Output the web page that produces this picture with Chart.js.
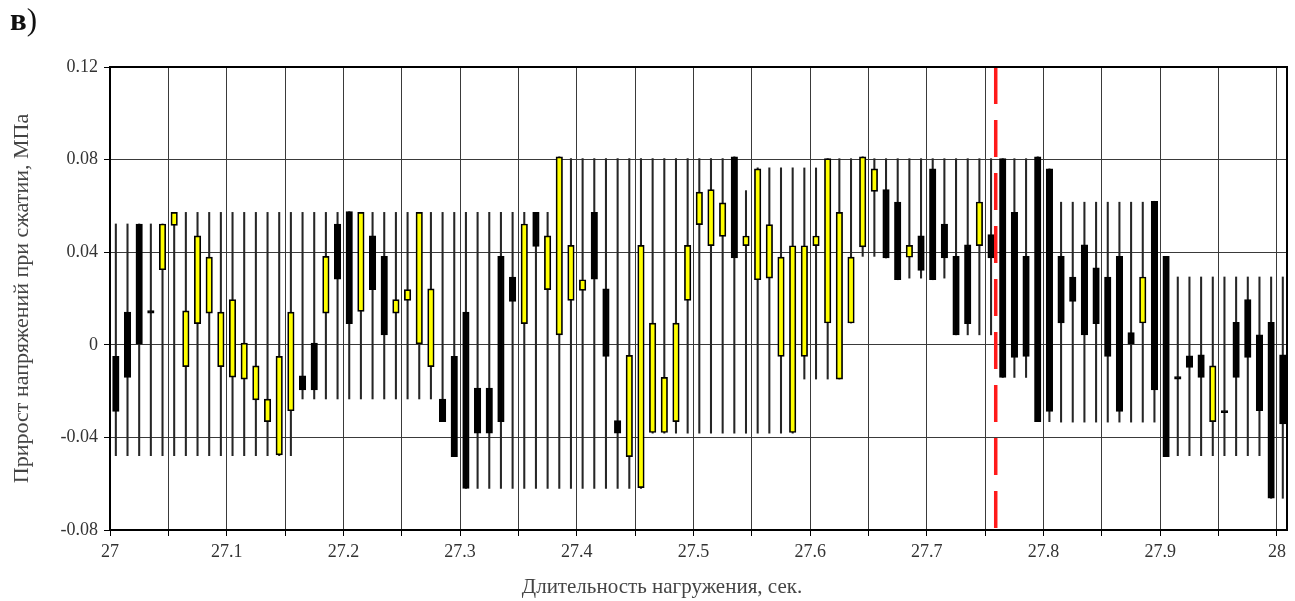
<!DOCTYPE html>
<html lang="ru">
<head>
<meta charset="utf-8">
<title>Прирост напряжений при сжатии</title>
<script src="https://cdn.jsdelivr.net/npm/chart.js@4.4.1/dist/chart.umd.min.js"></script>
<style>
  html, body { margin: 0; padding: 0; background: #fff; }
  #wrap { position: relative; width: 1295px; height: 601px; }
  #panel { position: absolute; left: 10px; top: 2px; font: 31px 'Liberation Serif', serif; color: #111; }
  #panel b { font-weight: bold; }
  #xTitle { position: absolute; left: 462px; width: 400px; top: 574px; text-align: center;
            font: 21px 'Liberation Serif', serif; color: #444; }
</style>
</head>
<body>
<div id="wrap">
  <canvas id="stockChart" width="1295" height="601"></canvas>
  <div id="panel"><b>в</b>)</div>
  <div id="xTitle">Длительность нагружения, сек.</div>
</div>
<script>
// 101 samples, 0.01 s apart, starting at 27.005 s
const startTime = 27.005;
const stepTime = 0.01;

const openVals = [
  -0.0050, 0.0141, 0.0522, 0.0148, 0.0324, 0.0516, -0.0094, 0.0091, 0.0137, -0.0094,
  -0.0140, -0.0148, -0.0238, -0.0332, -0.0476, -0.0285, -0.0134, 0.0007, 0.0137, 0.0522,
  0.0575, 0.0144, 0.0471, 0.0382, 0.0137, 0.0192, 0.0004, -0.0094, -0.0234, -0.0050,
  0.0141, -0.0187, -0.0187, 0.0382, 0.0293, 0.0091, 0.0572, 0.0238, 0.0043, 0.0192,
  0.0235, 0.0572, 0.0242, -0.0327, -0.0483, -0.0617, -0.0379, -0.0379, -0.0332, 0.0192,
  0.0519, 0.0428, 0.0468, 0.0812, 0.0428, 0.0281, 0.0288, -0.0050, -0.0379, -0.0050,
  0.0428, 0.0094, -0.0148, 0.0094, 0.0423, 0.0663, 0.0670, 0.0616, 0.0378, 0.0471,
  0.0760, 0.0522, 0.0382, 0.0432, 0.0428, 0.0476, 0.0804, 0.0572, 0.0382, 0.0812,
  0.0760, 0.0382, 0.0293, 0.0432, 0.0332, 0.0293, 0.0382, 0.0053, 0.0094, 0.0620,
  0.0382, -0.0137, -0.0048, -0.0043, -0.0332, -0.0284, 0.0097, 0.0195, 0.0043, 0.0097,
  -0.0043
];

const closeVals = [
  -0.0288, -0.0141, 0.0003, 0.0137, 0.0522, 0.0572, 0.0147, 0.0471, 0.0379, 0.0141,
  0.0195, 0.0007, -0.0091, -0.0235, -0.0050, 0.0141, -0.0195, -0.0195, 0.0382, 0.0284,
  0.0091, 0.0572, 0.0238, 0.0043, 0.0195, 0.0238, 0.0572, 0.0242, -0.0332, -0.0483,
  -0.0620, -0.0382, -0.0382, -0.0332, 0.0187, 0.0522, 0.0425, 0.0471, 0.0812, 0.0430,
  0.0281, 0.0284, -0.0050, -0.0382, -0.0046, 0.0430, 0.0094, -0.0141, 0.0094, 0.0430,
  0.0660, 0.0670, 0.0613, 0.0375, 0.0470, 0.0760, 0.0519, 0.0379, 0.0428, 0.0428,
  0.0470, 0.0804, 0.0572, 0.0379, 0.0812, 0.0760, 0.0375, 0.0281, 0.0430, 0.0321,
  0.0281, 0.0375, 0.0043, 0.0091, 0.0617, 0.0375, -0.0141, -0.0055, -0.0050, -0.0332,
  -0.0288, 0.0094, 0.0187, 0.0043, 0.0091, -0.0050, -0.0288, 0.0004, 0.0293, -0.0195,
  -0.0483, -0.0148, -0.0098, -0.0141, -0.0091, -0.0293, -0.0141, -0.0055, -0.0285, -0.0663,
  -0.0342
];

const highVals = [
  0.0522, 0.0522, 0.0522, 0.0522, 0.0522, 0.0572, 0.0572, 0.0572, 0.0572, 0.0572,
  0.0572, 0.0572, 0.0572, 0.0572, 0.0572, 0.0572, 0.0572, 0.0572, 0.0572, 0.0572,
  0.0575, 0.0572, 0.0572, 0.0572, 0.0572, 0.0572, 0.0572, 0.0572, 0.0572, 0.0572,
  0.0572, 0.0572, 0.0572, 0.0572, 0.0572, 0.0572, 0.0572, 0.0572, 0.0812, 0.0804,
  0.0804, 0.0804, 0.0804, 0.0804, 0.0804, 0.0804, 0.0804, 0.0804, 0.0804, 0.0804,
  0.0804, 0.0804, 0.0804, 0.0812, 0.0666, 0.0764, 0.0764, 0.0764, 0.0764, 0.0764,
  0.0764, 0.0804, 0.0804, 0.0804, 0.0812, 0.0804, 0.0804, 0.0804, 0.0804, 0.0804,
  0.0804, 0.0804, 0.0804, 0.0804, 0.0804, 0.0804, 0.0804, 0.0804, 0.0804, 0.0812,
  0.0760, 0.0616, 0.0616, 0.0616, 0.0616, 0.0616, 0.0616, 0.0616, 0.0616, 0.0620,
  0.0382, 0.0293, 0.0293, 0.0293, 0.0293, 0.0293, 0.0293, 0.0293, 0.0293, 0.0293,
  0.0293
];

const lowVals = [
  -0.0479, -0.0479, -0.0479, -0.0479, -0.0479, -0.0479, -0.0479, -0.0479, -0.0479, -0.0479,
  -0.0479, -0.0479, -0.0479, -0.0479, -0.0479, -0.0479, -0.0234, -0.0234, -0.0234, -0.0234,
  -0.0234, -0.0234, -0.0234, -0.0234, -0.0234, -0.0234, -0.0234, -0.0234, -0.0332, -0.0483,
  -0.0620, -0.0620, -0.0620, -0.0620, -0.0620, -0.0620, -0.0620, -0.0620, -0.0620, -0.0620,
  -0.0620, -0.0620, -0.0620, -0.0620, -0.0620, -0.0620, -0.0382, -0.0382, -0.0382, -0.0382,
  -0.0382, -0.0382, -0.0382, -0.0382, -0.0382, -0.0382, -0.0382, -0.0382, -0.0382, -0.0148,
  -0.0148, -0.0148, -0.0148, 0.0094, 0.0382, 0.0382, 0.0375, 0.0281, 0.0288, 0.0288,
  0.0281, 0.0288, 0.0043, 0.0043, 0.0043, 0.0043, -0.0141, -0.0141, -0.0141, -0.0332,
  -0.0332, -0.0334, -0.0334, -0.0334, -0.0334, -0.0334, -0.0334, -0.0334, -0.0334, -0.0334,
  -0.0483, -0.0479, -0.0479, -0.0479, -0.0479, -0.0479, -0.0479, -0.0479, -0.0479, -0.0663,
  -0.0663
];

// moment marked with the red dashed line
const splitTime = 27.759;

const xGridTicks = [27, 27.05, 27.1, 27.15, 27.2, 27.25, 27.3, 27.35, 27.4, 27.45, 27.5,
  27.55, 27.6, 27.65, 27.7, 27.75, 27.8, 27.85, 27.9, 27.95, 28];
const xTickLabels = ['27', '27.1', '27.2', '27.3', '27.4', '27.5', '27.6', '27.7', '27.8', '27.9', '28'];
const yTickLabels = ['-0.08', '-0.04', '0', '0.04', '0.08', '0.12'];

const times = openVals.map((_, i) => +(startTime + i * stepTime).toFixed(3));

const serif = "'Liberation Serif', 'Times New Roman', serif";

const frame = {
  id: 'frame',
  afterDatasetsDraw(chart) {
    const a = chart.chartArea, c = chart.ctx;
    c.save();
    c.strokeStyle = '#000';
    c.lineWidth = 2;
    c.strokeRect(a.left, a.top, a.right - a.left, a.bottom - a.top);
    c.restore();
  }
};

let ctx = document.getElementById('stockChart').getContext('2d');
let stockChart = new Chart(ctx, {
  type: 'bar',
  data: {
    datasets: [{
      label: 'wick',
      order: 3,
      grouped: false,
      data: times.map((t, i) => ({
        x: t,
        y: [Math.min(lowVals[i], openVals[i], closeVals[i]), Math.max(highVals[i], openVals[i], closeVals[i])]
      })),
      backgroundColor: '#262626',
      borderWidth: 0,
      barThickness: 1.4
    }, {
      label: 'body',
      order: 2,
      grouped: false,
      data: times.map((t, i) => ({ x: t, y: [openVals[i], closeVals[i]] })),
      backgroundColor: times.map((t, i) => closeVals[i] > openVals[i] ? '#ffff00' : '#000000'),
      borderColor: '#000',
      borderWidth: 1.7,
      borderSkipped: false,
      minBarLength: 2,
      barThickness: 6.5
    }, {
      type: 'line',
      label: 'split',
      order: 1,
      data: [{ x: splitTime, y: 0.12 }, { x: splitTime, y: -0.08 }],
      borderColor: '#ff1a1a',
      borderWidth: 3.5,
      borderDash: [37, 16],
      pointRadius: 0,
      fill: false
    }]
  },
  options: {
    responsive: false,
    animation: false,
    layout: { padding: { left: 0, top: 67, right: 8, bottom: 0 } },
    plugins: {
      legend: { display: false },
      tooltip: { enabled: false }
    },
    scales: {
      x: {
        type: 'linear',
        min: 27,
        max: 28.0086,
        offset: false,
        afterBuildTicks: s => { s.ticks = xGridTicks.map(v => ({ value: v })); },
        afterFit: s => { s.height = 71; },
        grid: { offset: false, color: '#3a3a3a', lineWidth: 1, tickLength: 6, tickColor: '#000' },
        border: { color: '#000', width: 2 },
        ticks: {
          autoSkip: false,
          maxRotation: 0,
          padding: 5,
          color: '#333',
          font: { family: serif, size: 18 },
          callback: v => {
            const lbl = String(Math.round(v * 100) / 100);
            return xTickLabels.includes(lbl) ? lbl : '';
          }
        }
      },
      y: {
        min: -0.08,
        max: 0.12,
        afterFit: s => { s.width = 110; },
        grid: { color: '#3a3a3a', lineWidth: 1, tickLength: 6, tickColor: '#000' },
        border: { color: '#000', width: 2 },
        ticks: {
          stepSize: 0.04,
          padding: 6,
          color: '#333',
          font: { family: serif, size: 18 },
          callback: v => yTickLabels.find(l => Math.abs(parseFloat(l) - v) < 1e-6) || ''
        },
        title: {
          display: true,
          text: 'Прирост напряжений при сжатии, МПа',
          color: '#444',
          font: { family: serif, size: 22 },
          padding: { top: 9, bottom: 0 }
        }
      }
    }
  },
  plugins: [frame]
});
</script>
</body>
</html>
